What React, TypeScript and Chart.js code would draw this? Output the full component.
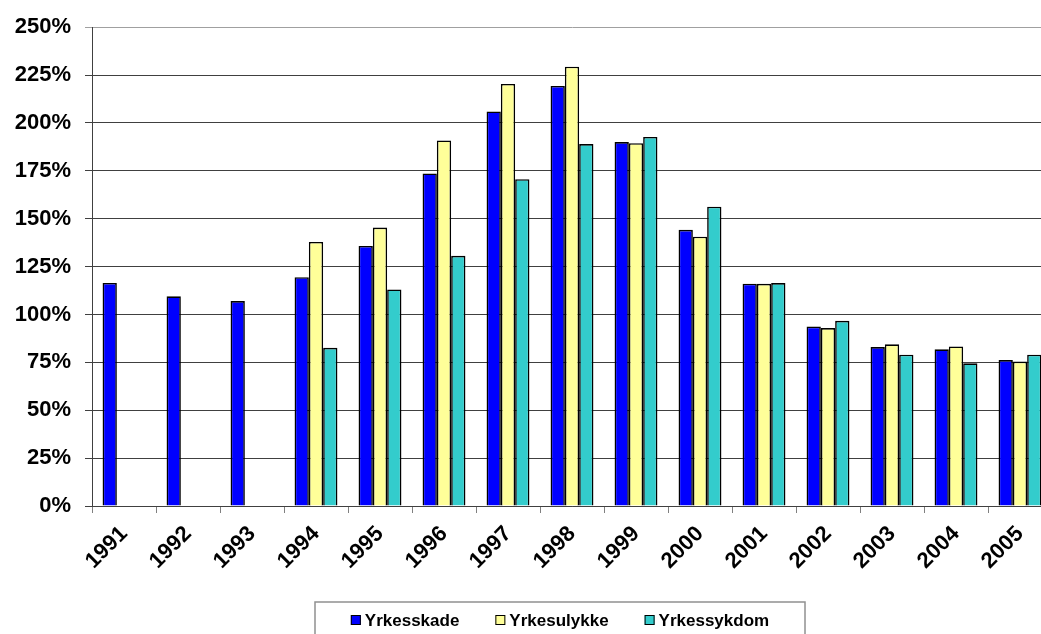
import React, { useEffect, useRef } from "react";
import { Chart, registerables } from "chart.js";

Chart.register(...registerables);

const years = ["1991", "1992", "1993", "1994", "1995", "1996", "1997", "1998", "1999", "2000", "2001", "2002", "2003", "2004", "2005"];
const yrkesskade = [116.5, 109.5, 107, 119.5, 135.8, 173.6, 206, 219.3, 190, 144.2, 116.1, 93.7, 83, 81.8, 76.2];
const yrkesulykke = [null, null, null, 137.9, 145.4, 190.9, 220.4, 229.4, 189.4, 140.6, 116, 92.9, 84.4, 83.3, 75.4];
const yrkessykdom = [null, null, null, 82.6, 113.1, 130.6, 170.6, 189, 192.7, 156.3, 116.4, 96.7, 79, 74.5, 79];
const seriesNames = ["Yrkesskade", "Yrkesulykke", "Yrkessykdom"];
const seriesColors = ["#0000FF", "#FFFF99", "#33CCCC"];

const FONT = "'Liberation Sans', Arial, sans-serif";

const legendPlugin = {
  id: "boxLegend",
  afterDraw(chart: any) {
    const ctx = chart.ctx;
    const boxL = 315, boxR = 805, boxT = 602, boxB = 645;
    ctx.save();
    ctx.strokeStyle = "#909090";
    ctx.lineWidth = 1.5;
    ctx.strokeRect(boxL, boxT, boxR - boxL, boxB - boxT);
    ctx.font = "bold 17px " + FONT;
    ctx.textBaseline = "middle";
    ctx.textAlign = "left";
    const ds = chart.data.datasets;
    const marker = 10, gapText = 4, gapItem = 36;
    const widths = ds.map((d: any) => marker + gapText + ctx.measureText(d.label).width);
    const total = widths.reduce((a: number, b: number) => a + b, 0) + gapItem * (ds.length - 1);
    let x = (boxL + boxR) / 2 - total / 2;
    const cy = 620;
    ds.forEach((d: any, i: number) => {
      ctx.fillStyle = d.backgroundColor;
      ctx.fillRect(x, cy - 5, marker, marker);
      ctx.strokeStyle = "#000";
      ctx.lineWidth = 1;
      ctx.strokeRect(x + 0.5, cy - 4.5, marker - 1, marker - 1);
      ctx.fillStyle = "#000";
      ctx.fillText(d.label, x + marker + gapText, cy + 1);
      x += widths[i] + gapItem;
    });
    ctx.restore();
  },
};

export default function App() {
  const ref = useRef<HTMLCanvasElement>(null);
  useEffect(() => {
    if (!ref.current) return;
    const data = [yrkesskade, yrkesulykke, yrkessykdom];
    const chart = new Chart(ref.current, {
      type: "bar",
      data: {
        labels: years,
        datasets: seriesNames.map((n, i) => ({
          label: n,
          data: data[i] as any,
          backgroundColor: seriesColors[i],
          borderColor: "#000000",
          borderWidth: 1.6,
          categoryPercentage: 0.67,
          barPercentage: 1,
        })),
      },
      options: {
        responsive: false,
        animation: false,
        layout: { padding: { left: 0, right: 8, top: 26, bottom: 38 } },
        plugins: { legend: { display: false }, tooltip: { enabled: false } },
        scales: {
          x: {
            afterFit: (s: any) => { s.height = 90; },
            grid: { drawOnChartArea: false, drawTicks: true, tickLength: 7, color: "#808080", offset: true },
            border: { color: "#404040", width: 1 },
            ticks: {
              minRotation: 45,
              maxRotation: 45,
              autoSkip: false,
              padding: 8,
              color: "#000",
              font: { family: FONT, size: 22, weight: "bold" },
            },
          },
          y: {
            min: 0,
            max: 250,
            afterFit: (s: any) => { s.width = 92; },
            grid: {
              color: (c: any) => (c.tick && c.tick.value === 250 ? "#a0a0a0" : "#404040"),
              tickLength: 7,
            },
            border: { color: "#404040", width: 1 },
            ticks: {
              stepSize: 25,
              padding: 14,
              color: "#000",
              font: { family: FONT, size: 22, weight: "bold" },
              callback: (v: any) => v + "%",
            },
          },
        },
      },
      plugins: [legendPlugin],
    });
    return () => chart.destroy();
  }, []);
  return (
    <div style={{ position: "fixed", left: 0, top: 0, width: 1060, height: 634, background: "#fff", overflow: "hidden" }}>
      <canvas ref={ref} width={1060} height={634} style={{ width: 1060, height: 634, display: "block" }} />
    </div>
  );
}
